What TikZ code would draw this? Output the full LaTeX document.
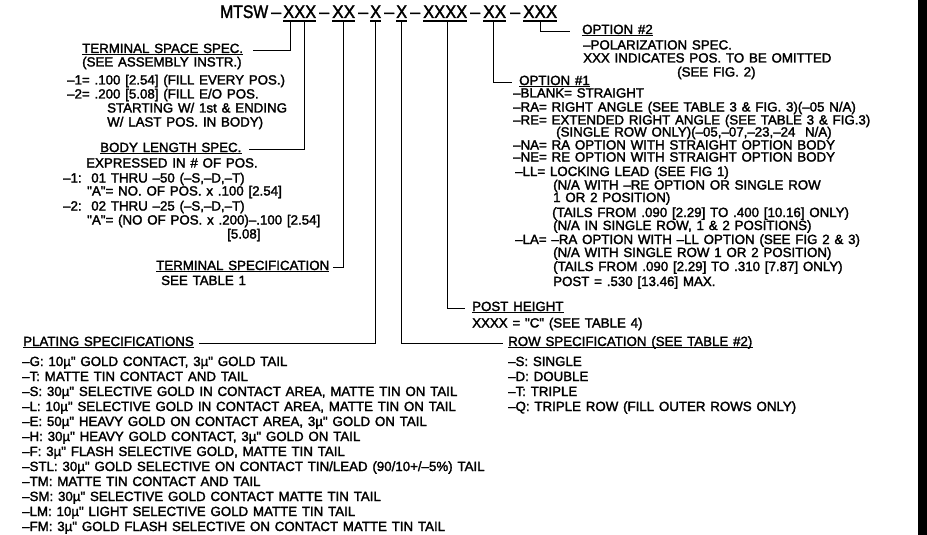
\documentclass[tikz,border=0pt]{standalone}
\usepackage{fontspec}
\usepackage{graphicx}
\newfontfamily\cadfont[FakeBold=2,WordSpace=1.3]{Liberation Sans}
\usetikzlibrary{calc}
\newcommand{\fitw}[2]{\resizebox{#1pt}{\height}{#2}}
\newcommand{\uln}[2][2pt]{\draw[uline] ([yshift=-#1]#2.base west) -- ([yshift=-#1]#2.base east);}
\tikzset{
  txt/.style={anchor=base west, inner sep=0pt, font=\cadfont\fontsize{13.3}{15}\selectfont},
  ttl/.style={anchor=base west, inner sep=0pt, font=\cadfont\fontsize{18.2}{20}\selectfont},
  lead/.style={line width=1.3pt},
  uline/.style={line width=1.2pt},
}
\begin{document}
\begin{tikzpicture}[x=1pt,y=-1pt]
\useasboundingbox (0,0) rectangle (927,535);
\fill (918,0) rectangle (927,535);
% ---- title ----
\node[ttl] (tm) at (220,18) {\fitw{48}{MTSW}};
\node[ttl] (d1) at (271,18) {\fitw{10}{–}};
\node[ttl] (g1) at (283,18) {\fitw{33}{XXX}};
\node[ttl] (d2) at (319,18) {\fitw{10}{–}};
\node[ttl] (g2) at (332,18) {\fitw{23}{XX}};
\node[ttl] (d3) at (358,18) {\fitw{10}{–}};
\node[ttl] (g3) at (370,18) {\fitw{11}{X}};
\node[ttl] (d4) at (384,18) {\fitw{10}{–}};
\node[ttl] (g4) at (396,18) {\fitw{11}{X}};
\node[ttl] (d5) at (410,18) {\fitw{10}{–}};
\node[ttl] (g5) at (423,18) {\fitw{44}{XXXX}};
\node[ttl] (d6) at (470,18) {\fitw{10}{–}};
\node[ttl] (g6) at (483,18) {\fitw{23}{XX}};
\node[ttl] (d7) at (510,18) {\fitw{10}{–}};
\node[ttl] (g7) at (523,18) {\fitw{34}{XXX}};
\foreach \g in {g1,g2,g3,g4,g5,g6,g7}{\uln[3pt]{\g}}
% ---- terminal space spec ----
\node[txt] (tss) at (82,53) {TERMINAL SPACE SPEC.};
\node[txt] (a1) at (82,66.5) {(SEE ASSEMBLY INSTR.)};
\node[txt] (a2) at (67,84.5) {–1= .100 [2.54] (FILL EVERY POS.)};
\node[txt] (a3) at (67,98.5) {–2= .200 [5.08] (FILL E/O POS.};
\node[txt] (a4) at (107,112.5) {STARTING W/ 1st \& ENDING};
\node[txt] (a5) at (107,126.5) {W/ LAST POS. IN BODY)};
% ---- body length spec ----
\node[txt] (bls) at (100,152) {BODY LENGTH SPEC.};
\node[txt] (b1) at (86,167.5) {EXPRESSED IN \# OF POS.};
\node[txt] (b2) at (63,182.5) {–1:\ \ 01 THRU –50 (–S,–D,–T)};
\node[txt] (b3) at (87,195.5) {"A"= NO. OF POS. x .100 [2.54]};
\node[txt] (b4) at (63,210.5) {–2:\ \ 02 THRU –25 (–S,–D,–T)};
\node[txt] (b5) at (87,224.5) {"A"= (NO OF POS. x .200)–.100 [2.54]};
\node[txt] (b6) at (227,238.5) {[5.08]};
% ---- terminal specification ----
\node[txt] (tsp) at (156,270) {TERMINAL SPECIFICATION};
\node[txt] (c1) at (161,285) {SEE TABLE 1};
% ---- plating ----
\node[txt] (pls) at (23,346) {PLATING SPECIFICATIONS};
\node[txt] (p1) at (22,366) {–G: 10µ" GOLD CONTACT, 3µ" GOLD TAIL};
\node[txt] (p2) at (22,381) {–T: MATTE TIN CONTACT AND TAIL};
\node[txt] (p3) at (22,396) {–S: 30µ" SELECTIVE GOLD IN CONTACT AREA, MATTE TIN ON TAIL};
\node[txt] (p4) at (22,411) {–L: 10µ" SELECTIVE GOLD IN CONTACT AREA, MATTE TIN ON TAIL};
\node[txt] (p5) at (22,426) {–E: 50µ" HEAVY GOLD ON CONTACT AREA, 3µ" GOLD ON TAIL};
\node[txt] (p6) at (22,441) {–H: 30µ" HEAVY GOLD CONTACT, 3µ" GOLD ON TAIL};
\node[txt] (p7) at (22,456) {–F: 3µ" FLASH SELECTIVE GOLD, MATTE TIN TAIL};
\node[txt] (p8) at (22,471) {–STL: 30µ" GOLD SELECTIVE ON CONTACT TIN/LEAD (90/10+/–5\%) TAIL};
\node[txt] (p9) at (22,486) {–TM: MATTE TIN CONTACT AND TAIL};
\node[txt] (p10) at (22,501) {–SM: 30µ" SELECTIVE GOLD CONTACT MATTE TIN TAIL};
\node[txt] (p11) at (22,516) {–LM: 10µ" LIGHT SELECTIVE GOLD MATTE TIN TAIL};
\node[txt] (p12) at (22,531) {–FM: 3µ" GOLD FLASH SELECTIVE ON CONTACT MATTE TIN TAIL};
% ---- row spec ----
\node[txt] (rws) at (508,346) {ROW SPECIFICATION (SEE TABLE \#2)};
\node[txt] (r1) at (508,366) {–S: SINGLE};
\node[txt] (r2) at (508,381) {–D: DOUBLE};
\node[txt] (r3) at (508,396) {–T: TRIPLE};
\node[txt] (r4) at (508,411) {–Q: TRIPLE ROW (FILL OUTER ROWS ONLY)};
% ---- post height ----
\node[txt] (pst) at (472,311) {POST HEIGHT};
\node[txt] (ph1) at (472,327.5) {XXXX = "C" (SEE TABLE 4)};
% ---- option 2 ----
\node[txt] (op2) at (582,34) {OPTION \#2};
\node[txt] (o2a) at (583,49.5) {–POLARIZATION SPEC.};
\node[txt] (o2b) at (583,62.5) {XXX INDICATES POS. TO BE OMITTED};
\node[txt] (o2c) at (677,76.5) {(SEE FIG. 2)};
% ---- option 1 ----
\node[txt] (op1) at (519,85) {OPTION \#1};
\node[txt] (o1) at (513,97.5) {–BLANK= STRAIGHT};
\node[txt] (o2) at (513,111.5) {–RA= RIGHT ANGLE (SEE TABLE 3 \& FIG. 3)(–05 N/A)};
\node[txt] (o3) at (513,124.5) {–RE= EXTENDED RIGHT ANGLE (SEE TABLE 3 \& FIG.3)};
\node[txt] (o4) at (556,136.5) {(SINGLE ROW ONLY)(–05,–07,–23,–24\ \ N/A)};
\node[txt] (o5) at (513,149.5) {–NA= RA OPTION WITH STRAIGHT OPTION BODY};
\node[txt] (o6) at (513,161.5) {–NE= RE OPTION WITH STRAIGHT OPTION BODY};
\node[txt] (o7) at (515,176) {–LL= LOCKING LEAD (SEE FIG 1)};
\node[txt] (o8) at (553,189.5) {(N/A WITH –RE OPTION OR SINGLE ROW};
\node[txt] (o9) at (553,202) {1 OR 2 POSITION)};
\node[txt] (o10) at (552,217) {(TAILS FROM .090 [2.29] TO .400 [10.16] ONLY)};
\node[txt] (o11) at (553,230) {(N/A IN SINGLE ROW, 1 \& 2 POSITIONS)};
\node[txt] (o12) at (515,244) {–LA= –RA OPTION WITH –LL OPTION (SEE FIG 2 \& 3)};
\node[txt] (o13) at (553,257) {(N/A WITH SINGLE ROW 1 OR 2 POSITION)};
\node[txt] (o14) at (553,271) {(TAILS FROM .090 [2.29] TO .310 [7.87] ONLY)};
\node[txt] (o15) at (553,286) {POST = .530 [13.46] MAX.};
% ---- heading underlines ----
\foreach \h in {tss,bls,tsp,pls,rws,pst,op2,op1}{\uln[1.8pt]{\h}}
% ---- leaders ----
\draw[lead] ([xshift=-9.5pt,yshift=-3pt]g1.base) |- ([xshift=10pt]tss.mid east);
\draw[lead] ([xshift=4.5pt,yshift=-3pt]g1.base) |- ([xshift=7pt]bls.mid east);
\draw[lead] ([yshift=-3pt]g2.base) |- ([xshift=4pt]tsp.mid east);
\draw[lead] ([yshift=-3pt]g3.base) |- ([xshift=5pt]pls.mid east);
\draw[lead] ([yshift=-3pt]g4.base) |- ([xshift=-5pt]rws.mid west);
\draw[lead] ([xshift=2pt,yshift=-3pt]g5.base) |- ([xshift=-7pt]pst.mid west);
\draw[lead] ([xshift=-1.5pt,yshift=-3pt]g6.base) |- ([xshift=-7pt]op1.mid west);
\draw[lead] ([yshift=-3pt]g7.base) |- ([xshift=-12pt]op2.mid west);
\end{tikzpicture}
\end{document}
